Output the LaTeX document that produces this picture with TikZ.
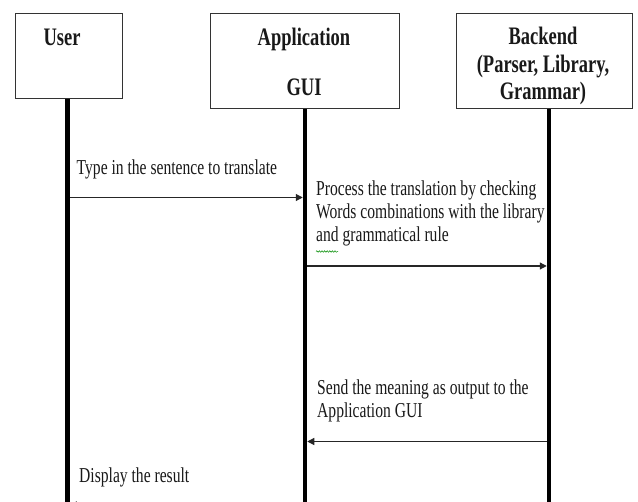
\documentclass[tikz,border=0pt]{standalone}
\usepackage{fontspec}
\setmainfont{Liberation Serif}
\usetikzlibrary{arrows.meta,decorations.pathmorphing}
\newcommand{\tallbody}[1]{\scalebox{1}[1.36]{\fontsize{15.6}{16.9}\selectfont\begin{tabular}[t]{@{}l@{}}#1\end{tabular}}}
\newcommand{\talltitle}[1]{\scalebox{1}[1.36]{\fontsize{18.5}{20.2}\selectfont\bfseries\begin{tabular}[t]{@{}c@{}}#1\end{tabular}}}
\tikzset{
  actorbox/.style={draw=black!80, line width=1pt, fill=white},
  lifeline/.style={line width=4.5pt, black},
  msg/.style={line width=1.2pt, black!85, -{Triangle[length=7pt,width=7pt]}, shorten >=2.25pt, shorten <=2.25pt},
  bodytext/.style={anchor=base west, inner sep=0pt, text=black!90},
  titletext/.style={anchor=base, inner sep=0pt, text=black!90},
}
\begin{document}
\begin{tikzpicture}[x=1pt,y=-1pt]
\clip (0,0) rectangle (638,502);
\fill[white] (0,0) rectangle (638,502);
% actor boxes
\draw[actorbox] (15,14) rectangle (122,99);
\draw[actorbox] (210,14) rectangle (399,109);
\draw[actorbox] (456,14) rectangle (632,109);
\node (userbox) at (68.5,56.5) {};
\node (appbox) at (304.5,61.5) {};
\node (backbox) at (544,61.5) {};
% titles
\node[titletext] (usertitle) at (62,46) {\talltitle{User}};
\node[titletext] (apptitle) at (304,46) {\talltitle{Application}};
\node[titletext] (guititle) at (304,96) {\talltitle{GUI}};
\node[titletext] (backtitle) at (543,45) {\talltitle{Backend\\(Parser, Library,\\Grammar)}};
% lifeline anchors
\coordinate (utop) at (67.5,99);
\coordinate (ubot) at (67.5,515);
\coordinate (atop) at (305,109);
\coordinate (abot) at (305,515);
\coordinate (btop) at (549,109);
\coordinate (bbot) at (549,515);
\draw[lifeline] (utop) -- (ubot);
\draw[lifeline] (atop) -- (abot);
\draw[lifeline] (btop) -- (bbot);
% message points
\coordinate (u1) at (67.5,197.5);
\coordinate (a1) at (305,197.5);
\coordinate (a2) at (305,266);
\coordinate (b2) at (549,266);
\coordinate (b3) at (549,441.5);
\coordinate (a3) at (305,441.5);
\coordinate (a4) at (305,505);
\coordinate (u4) at (67.5,505);
\draw[msg] (u1) -- (a1);
\draw[msg] (a2) -- (b2);
\draw[msg] (b3) -- (a3);
\draw[msg] (a4) -- (u4);
% labels
\node[bodytext] (lab1) at (76.5,175) {\tallbody{Type in the sentence to translate}};
\node[bodytext] (lab2) at (316,196) {\tallbody{Process the translation by checking\\Words combinations with the library\\and grammatical rule}};
\draw[green!55!black, line width=0.5pt, decorate, decoration={snake, amplitude=0.8pt, segment length=2.6pt}] (316,251.5) -- (338,251.5);
\node[bodytext] (lab3) at (317,394.5) {\tallbody{Send the meaning as output to the\\Application GUI}};
\node[bodytext] (lab4) at (79,482.5) {\tallbody{Display the result}};
\end{tikzpicture}
\end{document}
